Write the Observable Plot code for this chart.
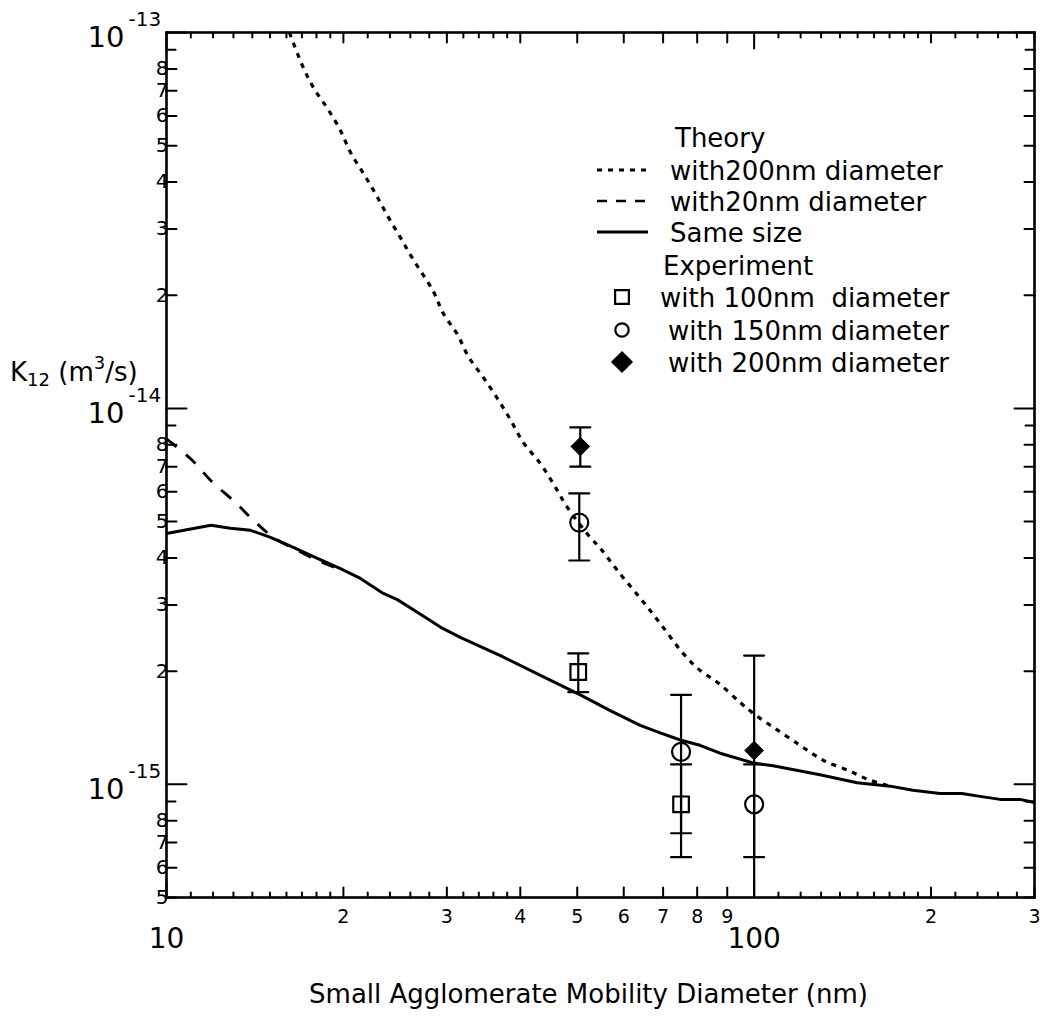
<!DOCTYPE html>
<html><head><meta charset="utf-8">
<script src="https://cdn.jsdelivr.net/npm/d3@7"></script>
<script src="https://cdn.jsdelivr.net/npm/@observablehq/plot@0.6"></script>
<style>
body{margin:0;background:#fff;}
#wrap{position:relative;width:1044px;height:1018px;font-family:"DejaVu Sans",sans-serif;}
#wrap svg{position:absolute;left:0;top:0;}
</style></head><body><div id="wrap"></div>
<script>
// ---- Theory curves (diameter nm, K12 m^3/s) ----
const sameSizeD = [10, 11.9, 12.85, 13.9, 15.03, 16.44, 18.06, 19.77, 21.38, 23.39, 24.71, 26.72, 29.24, 31.62, 37.0, 43.3, 50.6, 56.9, 64.0, 69.2, 75.1, 80.9, 87.5, 99.6, 107.7, 129.4, 149.7, 170.3, 186.3, 207.2, 225.7, 242.3, 262.1, 283.3, 300];
const sameSizeK = [4.65e-15, 4.89e-15, 4.80e-15, 4.74e-15, 4.54e-15, 4.27e-15, 3.99e-15, 3.75e-15, 3.53e-15, 3.22e-15, 3.10e-15, 2.87e-15, 2.62e-15, 2.46e-15, 2.20e-15, 1.95e-15, 1.73e-15, 1.57e-15, 1.435e-15, 1.37e-15, 1.31e-15, 1.27e-15, 1.21e-15, 1.14e-15, 1.12e-15, 1.06e-15, 1.01e-15, 0.989e-15, 0.964e-15, 0.946e-15, 0.946e-15, 0.929e-15, 0.912e-15, 0.912e-15, 0.895e-15];
const with20D = [10, 11.07, 11.88, 13.1, 14.06, 15.2, 16.7, 18.06, 19.54];
const with20K = [8.3e-15, 7.27e-15, 6.44e-15, 5.62e-15, 5.04e-15, 4.54e-15, 4.19e-15, 3.94e-15, 3.75e-15];
const with200D = [16.19, 17.03, 17.78, 18.79, 19.77, 20.56, 21.63, 22.67, 23.76, 25.0, 26.21, 28.44, 29.58, 31.26, 32.63, 34.6, 36.56, 38.46, 40.47, 43.25, 45.5, 48.08, 52.6, 54.7, 58.5, 63.97, 69.2, 75.7, 80.9, 86.9, 94.7, 99.6, 107.7, 118.4, 127.0, 133.1, 144.5, 156.3, 170.3];
const with200K = [1e-13, 8.17e-14, 7.14e-14, 6.28e-14, 5.49e-14, 4.80e-14, 4.22e-14, 3.73e-14, 3.26e-14, 2.85e-14, 2.51e-14, 2.05e-14, 1.79e-14, 1.574e-14, 1.375e-14, 1.209e-14, 1.064e-14, 9.35e-15, 8.12e-15, 7.14e-15, 6.32e-15, 5.46e-15, 4.54e-15, 4.25e-15, 3.71e-15, 3.13e-15, 2.68e-15, 2.23e-15, 2.01e-15, 1.86e-15, 1.65e-15, 1.545e-15, 1.42e-15, 1.285e-15, 1.194e-15, 1.145e-15, 1.09e-15, 1.03e-15, 0.989e-15];

// ---- Experiment (diameter, K12, lower, upper) ----
const exp100D = [50.2, 75.1];
const exp100K = [1.99e-15, 0.885e-15];
const exp100Lo = [1.76e-15, 0.64e-15];
const exp100Hi = [2.23e-15, 1.13e-15];
const exp150D = [50.4, 75.1, 100];
const exp150K = [4.97e-15, 1.22e-15, 0.885e-15];
const exp150Lo = [3.94e-15, 0.741e-15, 0.64e-15];
const exp150Hi = [5.94e-15, 1.73e-15, 1.13e-15];
const exp200D = [50.6, 100];
const exp200K = [7.92e-15, 1.23e-15];
const exp200Lo = [7.0e-15, 0.26e-15];
const exp200Hi = [8.9e-15, 2.20e-15];

// ---- Ticks ----
const xMajorTicks = [10, 100];
const xMajorText = ["10", "100"];
const xLabeledTicks = [20, 30, 40, 50, 60, 70, 80, 90, 200, 300];
const xLabeledText = ["2", "3", "4", "5", "6", "7", "8", "9", "2", "3"];
const xSmallTicks = [11, 12, 13, 14, 15, 16, 17, 18, 19, 22, 24, 26, 28, 32, 34, 36, 38, 110, 120, 130, 140, 150, 160, 170, 180, 190, 220, 240, 260, 280];
const yMajorTicks = [1e-13, 1e-14, 1e-15];
const yMajorExp = ["-13", "-14", "-15"];
const yLabeledTicks = [8e-14, 7e-14, 6e-14, 5e-14, 4e-14, 3e-14, 2e-14, 8e-15, 7e-15, 6e-15, 5e-15, 4e-15, 3e-15, 2e-15, 8e-16, 7e-16, 6e-16, 5e-16];
const yLabeledText = ["8", "7", "6", "5", "4", "3", "2", "8", "7", "6", "5", "4", "3", "2", "8", "7", "6", "5"];
const yPlainTicks = [9e-14, 9e-15, 9e-16];

const xTitle = "Small Agglomerate Mobility Diameter (nm)";
const legendTheory = ["with200nm diameter", "with20nm diameter", "Same size"];
const legendExp = ["with 100nm  diameter", "with 150nm diameter", "with 200nm diameter"];

const rows = (D, K) => D.map((d, i) => ({d, k: K[i]}));
const errRows = (D, K, L, H) => D.map((d, i) => ({d, k: K[i], lo: L[i], hi: H[i]}));

const shp = (dx, dy) => ({draw(ctx, l) { ctx.moveTo(0, 0); ctx.lineTo(dx * l, dy * l); }});
const hcap = {draw(ctx, l) { ctx.moveTo(-l / 2, 0); ctx.lineTo(l / 2, 0); }};
const tk = (data, anchor, len, dir, chan) => Plot.vector(data, {[chan]: d => d, frameAnchor: anchor, length: len, anchor: "start", shape: shp(...dir), stroke: "black", strokeWidth: 2});

const e100 = errRows(exp100D, exp100K, exp100Lo, exp100Hi);
const e150 = errRows(exp150D, exp150K, exp150Lo, exp150Hi);
const e200 = errRows(exp200D, exp200K, exp200Lo, exp200Hi);
const allErr = [...e100, ...e150, ...e200];

const font = "DejaVu Sans, sans-serif";

const chart = Plot.plot({
  width: 1044, height: 1018,
  marginLeft: 166, marginRight: 10, marginTop: 32, marginBottom: 121,
  style: {fontFamily: font, background: "white", color: "black"},
  x: {type: "log", domain: [10, 300], axis: null},
  y: {type: "log", domain: [5e-16, 1e-13], axis: null},
  marks: [
    Plot.line(rows(with200D, with200K), {x: "d", y: "k", stroke: "black", strokeWidth: 3.2, strokeDasharray: "5,6", strokeLinecap: "butt", curve: "catmull-rom", clip: true}),
    Plot.line(rows(with20D, with20K), {x: "d", y: "k", stroke: "black", strokeWidth: 2.8, strokeDasharray: "13,12", strokeLinecap: "butt", curve: "catmull-rom", clip: true}),
    Plot.line(rows(sameSizeD, sameSizeK), {x: "d", y: "k", stroke: "black", strokeWidth: 3, clip: true}),
    Plot.ruleX(allErr, {x: "d", y1: "lo", y2: "hi", stroke: "black", strokeWidth: 2.2, clip: true}),
    Plot.vector(allErr, {x: "d", y: "lo", length: 20, anchor: "start", shape: hcap, stroke: "black", strokeWidth: 2.2, clip: true}),
    Plot.vector(allErr, {x: "d", y: "hi", length: 20, anchor: "start", shape: hcap, stroke: "black", strokeWidth: 2.2, clip: true}),
    Plot.dot(e100, {x: "d", y: "k", symbol: "square", r: 8.8, stroke: "black", strokeWidth: 2.2, fill: "none"}),
    Plot.dot(e150, {x: "d", y: "k", symbol: "circle", r: 9, stroke: "black", strokeWidth: 2.2, fill: "none"}),
    Plot.dot(e200, {x: "d", y: "k", symbol: "diamond2", r: 8.4, stroke: "black", strokeWidth: 1, fill: "black"}),
    // ticks
    tk(xMajorTicks, "bottom", 16, [0, -1], "x"),
    tk(xLabeledTicks, "bottom", 10, [0, -1], "x"),
    tk(xSmallTicks, "bottom", 5, [0, -1], "x"),
    tk(xMajorTicks, "top", 16, [0, 1], "x"),
    tk(xLabeledTicks, "top", 10, [0, 1], "x"),
    tk(xSmallTicks, "top", 5, [0, 1], "x"),
    tk(yMajorTicks, "left", 20, [1, 0], "y"),
    tk(yLabeledTicks, "left", 10, [1, 0], "y"),
    tk(yPlainTicks, "left", 9, [1, 0], "y"),
    tk(yMajorTicks, "right", 20, [-1, 0], "y"),
    tk(yLabeledTicks, "right", 10, [-1, 0], "y"),
    tk(yPlainTicks, "right", 9, [-1, 0], "y"),
    Plot.frame({stroke: "black", strokeWidth: 2.6}),
    // tick labels
    Plot.text(xLabeledTicks, {x: d => d, text: (d, i) => xLabeledText[i], frameAnchor: "bottom", dy: 19, fontSize: 19, lineAnchor: "middle"}),
    Plot.text(xMajorTicks, {x: d => d, text: (d, i) => xMajorText[i], frameAnchor: "bottom", dy: 42, fontSize: 28, lineAnchor: "middle"}),
    Plot.text(yLabeledTicks, {y: d => d, text: (d, i) => yLabeledText[i], frameAnchor: "left", textAnchor: "end", dx: 2, fontSize: 20, lineAnchor: "middle"}),
    Plot.text(yMajorTicks, {y: d => d, text: () => "10", frameAnchor: "left", textAnchor: "end", dx: -42, dy: 5, fontSize: 29, lineAnchor: "middle"}),
    Plot.text(yMajorTicks, {y: d => d, text: (d, i) => yMajorExp[i], frameAnchor: "left", textAnchor: "start", dx: -38, dy: -13, fontSize: 20, lineAnchor: "middle"}),
    Plot.text([xTitle], {text: d => d, frameAnchor: "bottom", dx: -12, dy: 97, fontSize: 26, lineAnchor: "middle"})
  ]
});

const wrap = document.getElementById("wrap");
wrap.appendChild(chart);

// overlay: y title and legend
const ov = d3.create("svg").attr("width", 1044).attr("height", 1018)
  .style("font-family", font).style("pointer-events", "none");
const yl = ov.append("text").attr("x", 10).attr("y", 381).attr("font-size", 26).attr("fill", "black");
yl.append("tspan").text("K");
yl.append("tspan").attr("font-size", 18).attr("dy", 5).text("12");
yl.append("tspan").attr("dy", -5).text(" (m");
yl.append("tspan").attr("font-size", 18).attr("dy", -12).text("3");
yl.append("tspan").attr("dy", 12).text("/s)");

const lg = ov.append("g").attr("font-size", 26).attr("fill", "black");
lg.append("text").attr("x", 675).attr("y", 147).text("Theory");
const lineY = [170, 201, 232];
const dashes = ["5,6", "10,9", null];
const widths = [3, 2.6, 2.8];
legendTheory.forEach((t, i) => {
  const l = lg.append("line").attr("x1", 597).attr("x2", 648).attr("y1", lineY[i]).attr("y2", lineY[i])
    .attr("stroke", "black").attr("stroke-width", widths[i]);
  if (dashes[i]) l.attr("stroke-dasharray", dashes[i]);
  lg.append("text").attr("x", 670).attr("y", lineY[i] + 10).text(t);
});
lg.append("text").attr("x", 663).attr("y", 275).text("Experiment");
const symY = [297, 330, 362];
const symX = [660, 668, 668];
const sym = [d3.symbolSquare, d3.symbolCircle, d3.symbolDiamond2];
const symSize = [190, 140, 230];
legendExp.forEach((t, i) => {
  lg.append("path").attr("d", d3.symbol(sym[i], symSize[i])()).attr("transform", `translate(622,${symY[i]})`)
    .attr("fill", i === 2 ? "black" : "none").attr("stroke", "black").attr("stroke-width", 2.2);
  lg.append("text").attr("x", symX[i]).attr("y", symY[i] + 10).style("white-space", "pre").attr("xml:space", "preserve").text(t);
});
wrap.appendChild(ov.node());
</script></body></html>
